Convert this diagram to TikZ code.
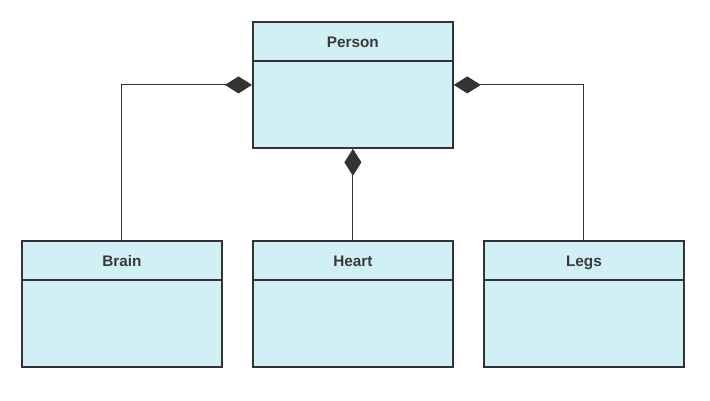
\documentclass[tikz,border=0pt]{standalone}
\usepackage{fontspec}
\setmainfont{Liberation Sans}
\usetikzlibrary{arrows.meta}
\definecolor{boxfill}{HTML}{D1F0F5}
\definecolor{dgray}{HTML}{333333}
\definecolor{tgray}{HTML}{3A3A3A}
\begin{document}
\begin{tikzpicture}[x=1pt,y=-1pt,
  classbox/.style={draw=dgray,fill=boxfill,line width=1.8pt,minimum width=200pt,minimum height=126pt,inner sep=0pt,anchor=north west},
  title/.style={text=tgray,font=\fontsize{15.3pt}{18pt}\selectfont\bfseries,anchor=base,inner sep=0pt},
  divider/.style={draw=dgray,line width=2.8pt},
  comp/.style={draw=dgray,line width=1pt,-{Diamond[length=27pt,width=17pt,fill=dgray]}}]
\useasboundingbox (0,0) rectangle (710,400);
\node[classbox] (person) at (252,21) {};
\node[classbox] (brain) at (21,240) {};
\node[classbox] (heart) at (252,240) {};
\node[classbox] (legs) at (483,240) {};
\foreach \n/\t in {person/Person,brain/Brain,heart/Heart,legs/Legs}{
  \draw[divider] ([yshift=-40pt]\n.north west) -- ([yshift=-40pt]\n.north east);
  \node[title] (\n-title) at ([yshift=-26pt]\n.north) {\t};
}
\draw[comp] (brain.north) |- (person.west);
\draw[comp] (legs.north) |- (person.east);
\draw[comp] (heart.north) -- (person.south);
\end{tikzpicture}
\end{document}
